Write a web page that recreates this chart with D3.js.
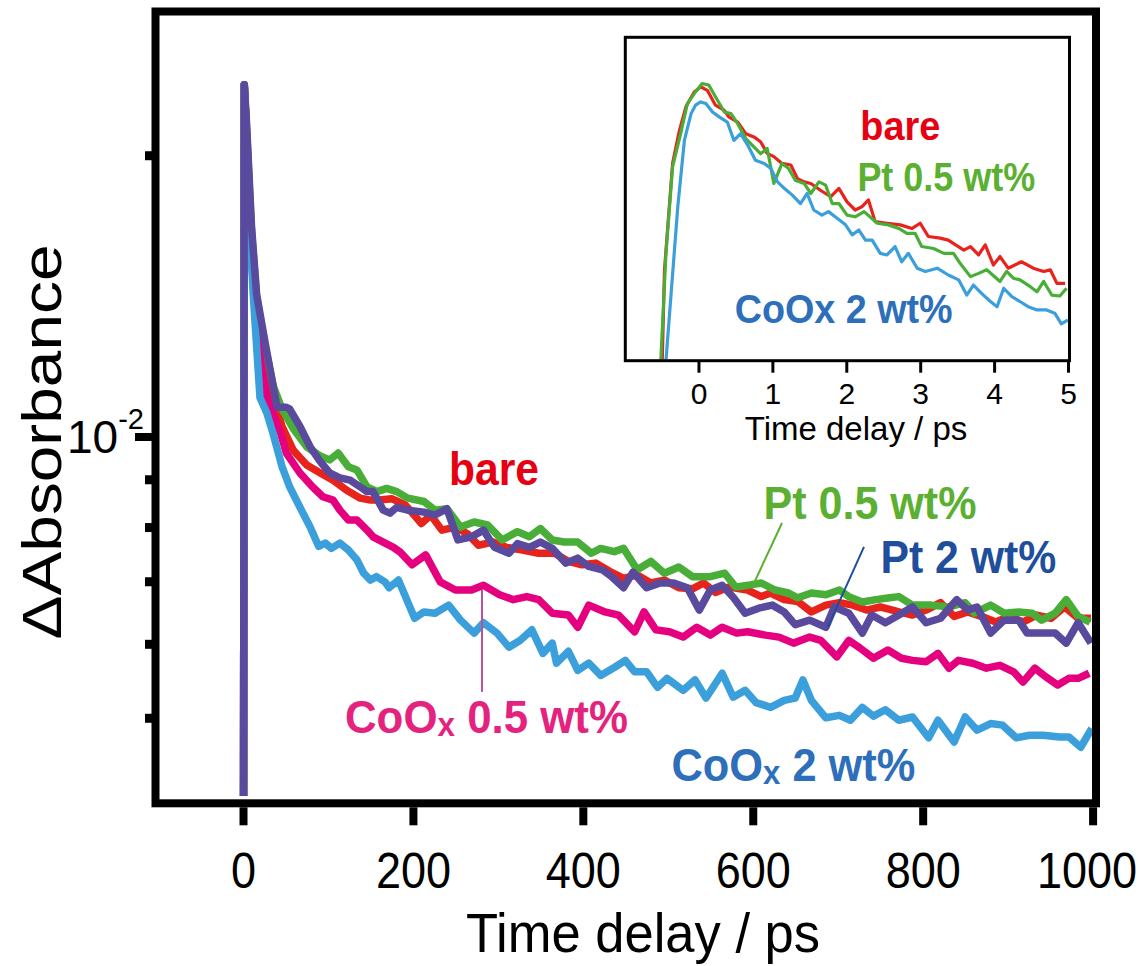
<!DOCTYPE html>
<html>
<head>
<meta charset="utf-8">
<script src="https://cdn.jsdelivr.net/npm/d3@7"></script>
<style>
  html, body { margin: 0; padding: 0; background: #fff; }
  svg { display: block; }
  text { font-family: "Liberation Sans", Arial, Helvetica, sans-serif; }
</style>
</head>
<body>
<svg id="chart" width="1142" height="966"></svg>
<script>
// ---- Transient absorption decays: [time / ps, ΔAbs / 10^-3] ----
const bare = [[-4,1],[0,1],[1.5,23.8],[4,21.3],[10,16.3],[16,13.8],[26,12.2],[36,11.0],[46,10.25],[59,9.67],[75,9.32],[91,9.14],[106,8.98],[122,8.76],[138,8.59],[150,8.55],[161,8.55],[175,8.58],[191,8.45],[210,8.07],[221,8.24],[234,7.94],[250,8.00],[264,7.87],[277,7.65],[294,7.71],[310,7.61],[329,7.56],[348,7.50],[367,7.50],[383,7.35],[399,7.29],[415,7.32],[432,7.17],[448,7.05],[464,7.11],[480,6.97],[496,7.02],[513,6.89],[529,6.87],[542,6.97],[556,6.81],[572,6.90],[594,6.85],[610,6.74],[621,6.80],[637,6.69],[653,6.66],[669,6.49],[686,6.60],[702,6.64],[718,6.60],[734,6.52],[750,6.57],[772,6.49],[788,6.44],[804,6.52],[821,6.64],[837,6.42],[853,6.49],[869,6.42],[886,6.33],[902,6.42],[918,6.33],[934,6.44],[951,6.39],[967,6.57],[983,6.39],[998,6.39]];

const pt05 = [[-4,1],[0,1],[1.5,23.8],[4,21.5],[10,16.6],[16,14.1],[26,12.5],[36,11.3],[46,10.7],[59,10.2],[75,9.75],[91,9.53],[102,9.44],[112,9.60],[124,9.28],[134,9.21],[146,8.83],[158,8.73],[169,8.80],[181,8.73],[194,8.59],[213,8.52],[226,8.34],[240,8.37],[256,8.00],[272,8.10],[288,8.04],[305,7.75],[323,7.91],[337,7.81],[350,7.97],[364,7.75],[378,7.71],[394,7.71],[410,7.50],[421,7.59],[437,7.53],[448,7.59],[464,7.20],[480,7.35],[496,7.14],[513,7.25],[529,7.08],[550,7.08],[567,7.14],[580,6.90],[594,6.93],[610,6.97],[626,6.85],[642,6.80],[653,6.72],[669,6.80],[686,6.77],[702,6.85],[713,6.74],[729,6.65],[745,6.69],[761,6.72],[772,6.74],[788,6.60],[810,6.60],[831,6.57],[850,6.64],[861,6.47],[880,6.60],[896,6.47],[913,6.49],[929,6.47],[940,6.36],[956,6.47],[969,6.69],[983,6.42],[997,6.33]];

const coox05 = [[-4,1],[0,1],[1.5,23.8],[4,21.0],[10,15.5],[16,13.0],[22,11.8],[29,10.9],[44,10.1],[51,9.60],[67,9.14],[82,8.83],[94,8.62],[106,8.55],[114,8.34],[124,8.14],[134,8.14],[146,7.94],[153,7.81],[165,7.71],[177,7.61],[185,7.52],[199,7.29],[215,7.47],[232,6.99],[250,6.85],[269,6.85],[283,6.93],[302,6.77],[318,6.69],[334,6.74],[348,6.69],[364,6.47],[383,6.44],[394,6.25],[407,6.60],[426,6.49],[442,6.44],[461,6.18],[472,6.49],[486,6.21],[502,6.18],[518,6.10],[534,6.25],[550,6.13],[564,6.25],[581,6.16],[594,6.18],[615,6.13],[631,6.10],[648,6.01],[667,6.10],[680,6.05],[699,5.81],[713,6.05],[726,5.94],[742,5.79],[759,5.91],[775,5.79],[788,5.76],[804,5.74],[818,5.86],[831,5.65],[842,5.76],[859,5.72],[875,5.65],[891,5.69],[907,5.60],[918,5.46],[932,5.65],[945,5.53],[959,5.42],[972,5.51],[983,5.51],[996,5.58]];

const coox2 = [[-4,1],[0,1],[1.5,23.8],[6,18.2],[12,14.2],[20,11.0],[28,10.6],[35,10.1],[46,9.28],[55,8.83],[67,8.40],[79,8.00],[89,7.63],[97,7.69],[104,7.59],[114,7.69],[124,7.56],[134,7.38],[142,7.14],[150,7.02],[157,7.08],[167,6.99],[172,6.89],[183,7.02],[202,6.39],[213,6.49],[226,6.47],[242,6.60],[256,6.36],[272,6.16],[283,6.32],[299,6.16],[313,5.95],[326,6.05],[340,6.21],[353,5.86],[364,6.01],[369,5.72],[383,5.89],[394,5.62],[407,5.72],[421,5.55],[437,5.66],[450,5.76],[461,5.60],[475,5.60],[488,5.39],[499,5.51],[518,5.35],[532,5.49],[545,5.25],[564,5.58],[577,5.26],[591,5.35],[604,5.19],[621,5.13],[637,5.22],[650,5.25],[659,5.49],[669,5.22],[686,5.00],[702,5.03],[715,4.97],[729,5.13],[742,5.02],[756,5.10],[772,4.97],[788,5.01],[807,4.76],[818,4.97],[837,4.71],[850,5.01],[864,4.85],[880,4.93],[894,4.91],[910,4.76],[926,4.79],[942,4.79],[961,4.77],[972,4.77],[986,4.65],[999,4.87]];

const pt2 = [[-4,1],[0,1],[1.5,23.8],[4,21.8],[10,16.8],[16,14.2],[26,12.6],[40,10.75],[51,10.75],[55,10.7],[67,10.25],[79,9.75],[91,9.40],[102,9.14],[114,9.03],[126,8.98],[138,8.83],[146,8.73],[153,8.73],[165,8.34],[173,8.28],[181,8.40],[194,8.34],[213,8.30],[226,8.24],[240,8.37],[253,7.75],[269,7.81],[283,7.94],[296,7.61],[313,7.50],[323,7.68],[337,7.61],[350,7.71],[364,7.59],[380,7.32],[394,7.41],[407,7.26],[423,7.20],[434,7.08],[448,6.89],[459,7.16],[475,6.89],[491,6.97],[507,6.97],[523,6.89],[537,6.52],[550,6.85],[564,6.93],[577,6.73],[591,6.47],[607,6.55],[623,6.60],[637,6.49],[650,6.29],[667,6.36],[686,6.25],[696,6.57],[713,6.47],[729,6.16],[740,6.44],[756,6.32],[772,6.44],[788,6.57],[804,6.32],[821,6.39],[840,6.69],[853,6.52],[864,6.57],[880,6.16],[896,6.36],[913,6.36],[923,6.16],[940,6.16],[956,6.16],[969,6.01],[983,6.32],[998,6.01]];

// ---- Early-time decays for the inset: [time / ps, normalised ΔAbs] ----
const insetBare = [[-0.6,-0.1],[-0.49,0.00],[-0.46,0.28],[-0.35,0.61],[-0.26,0.71],[-0.17,0.785],[-0.06,0.83],[0.03,0.847],[0.12,0.836],[0.23,0.79],[0.35,0.774],[0.41,0.754],[0.53,0.738],[0.64,0.702],[0.75,0.692],[0.84,0.677],[0.93,0.641],[1.02,0.631],[1.13,0.61],[1.25,0.605],[1.34,0.563],[1.43,0.553],[1.52,0.548],[1.65,0.527],[1.79,0.507],[1.90,0.533],[2.01,0.491],[2.12,0.466],[2.21,0.476],[2.30,0.497],[2.39,0.43],[2.55,0.425],[2.73,0.42],[2.89,0.409],[3.00,0.425],[3.11,0.384],[3.27,0.379],[3.38,0.373],[3.59,0.342],[3.68,0.353],[3.79,0.327],[3.88,0.358],[3.99,0.296],[4.08,0.322],[4.19,0.286],[4.37,0.306],[4.53,0.286],[4.67,0.276],[4.76,0.281],[4.85,0.239],[4.96,0.239]];

const insetPt05 = [[-0.6,-0.1],[-0.51,0.00],[-0.44,0.332],[-0.35,0.60],[-0.24,0.703],[-0.15,0.795],[-0.04,0.831],[0.05,0.857],[0.14,0.852],[0.23,0.816],[0.35,0.769],[0.44,0.764],[0.53,0.733],[0.64,0.687],[0.75,0.661],[0.84,0.64],[0.93,0.656],[1.02,0.548],[1.13,0.61],[1.22,0.594],[1.31,0.558],[1.43,0.548],[1.52,0.517],[1.63,0.553],[1.72,0.543],[1.81,0.486],[1.90,0.486],[2.01,0.45],[2.12,0.445],[2.24,0.461],[2.42,0.425],[2.57,0.42],[2.71,0.409],[2.82,0.394],[2.93,0.394],[3.02,0.353],[3.18,0.347],[3.32,0.332],[3.45,0.332],[3.54,0.301],[3.68,0.26],[3.79,0.27],[3.90,0.281],[4.08,0.245],[4.17,0.276],[4.26,0.255],[4.35,0.25],[4.49,0.229],[4.58,0.213],[4.67,0.245],[4.78,0.203],[4.89,0.20],[4.98,0.224]];

const insetCoox2 = [[-0.5,-0.1],[-0.44,0.00],[-0.37,0.208],[-0.28,0.476],[-0.19,0.682],[-0.10,0.764],[-0.04,0.79],[0.03,0.80],[0.10,0.795],[0.19,0.769],[0.28,0.754],[0.39,0.738],[0.48,0.681],[0.57,0.702],[0.68,0.661],[0.77,0.62],[0.89,0.61],[0.98,0.594],[1.07,0.553],[1.16,0.533],[1.27,0.512],[1.38,0.486],[1.47,0.517],[1.56,0.466],[1.67,0.45],[1.76,0.461],[1.88,0.44],[1.99,0.42],[2.08,0.389],[2.17,0.404],[2.26,0.373],[2.35,0.373],[2.46,0.332],[2.55,0.327],[2.66,0.353],[2.75,0.306],[2.84,0.332],[2.96,0.286],[3.07,0.276],[3.23,0.286],[3.38,0.265],[3.52,0.25],[3.63,0.203],[3.72,0.234],[3.83,0.208],[3.95,0.183],[4.04,0.167],[4.13,0.224],[4.24,0.198],[4.35,0.183],[4.46,0.167],[4.58,0.157],[4.71,0.157],[4.82,0.147],[4.91,0.114],[5.00,0.126]];

// ---- Axis ticks ----
const xTicks = [0, 200, 400, 600, 800, 1000];
const yMinorTicks = [5, 6, 7, 8, 9, 20];
const yMajorTicks = [10];
const insetTicks = [0, 1, 2, 3, 4, 5];

// ---- Series styling and annotations (anchors in data units) ----
const mainSeries = [
  { data: bare,   color: "#e8231c" },
  { data: pt05,   color: "#48ae37" },
  { data: coox05, color: "#e5007f" },
  { data: coox2,  color: "#3a9fdb" },
  { data: pt2,    color: "#5a4a9e" }
];
const insetSeries = [
  { data: insetBare,  color: "#e8231c" },
  { data: insetPt05,  color: "#48ae37" },
  { data: insetCoox2, color: "#3a9fdb" }
];
const mainLabels = [
  { parts: [["bare"]], t: 242.5, v: 8.87, color: "#e60012", width: 90 },
  { parts: [["Pt 0.5 wt%"]], t: 612.6, v: 8.16, color: "#5bb031", width: 213 },
  { parts: [["Pt 2 wt%"]], t: 750.3, v: 7.145, color: "#1f4e9c", width: 176 },
  { parts: [["CoO"], ["x", "sub"], [" 0.5 wt%"]], t: 120.0, v: 4.816, color: "#e4237e", width: 283 },
  { parts: [["CoO"], ["x", "sub"], [" 2 wt%"]], t: 504.3, v: 4.279, color: "#2d6fba", width: 244 }
];
const leaders = [
  { from: [634.4, 8.08], to: [601.5, 6.97], color: "#5bb031" },
  { from: [730.9, 7.62], to: [688.6, 6.26], color: "#1f4e9c" },
  { from: [281.3, 6.85], to: [281.3, 5.33], color: "#b9529a" }
];
const insetLabels = [
  { text: "bare", t: 2.19, v: 0.682, color: "#e60012", width: 80 },
  { text: "Pt 0.5 wt%", t: 2.15, v: 0.526, color: "#5bb031", width: 178 },
  { text: "CoOx 2 wt%", t: 0.49, v: 0.117, color: "#2d6fba", width: 218 }
];

const svg = d3.select("#chart");

// ---- Main plot ----
const frame = { left: 155.5, top: 11.5, right: 1096, bottom: 803.3 };
const x = d3.scaleLinear().domain([-103, 1004]).range([frame.left, frame.right]);
const y = d3.scaleLog().domain([4.05, 28.5]).range([frame.bottom, frame.top]);

svg.append("clipPath").attr("id", "plotClip")
  .append("rect").attr("x", frame.left + 4).attr("y", frame.top + 4)
  .attr("width", frame.right - frame.left - 8).attr("height", 796 - frame.top - 4);

const line = d3.line().x(d => x(d[0])).y(d => y(d[1]));
svg.append("g").attr("clip-path", "url(#plotClip)")
  .selectAll("path").data(mainSeries).join("path")
  .attr("d", s => line(s.data))
  .attr("fill", "none").attr("stroke", s => s.color)
  .attr("stroke-width", 7.5).attr("stroke-linejoin", "round");

// frame
svg.append("rect")
  .attr("x", frame.left).attr("y", frame.top)
  .attr("width", frame.right - frame.left).attr("height", frame.bottom - frame.top)
  .attr("fill", "none").attr("stroke", "#000").attr("stroke-width", 8);

// slightly narrowed glyphs for tick numbers
function narrow(sel, f) {
  sel.each(function () {
    const w = this.getComputedTextLength();
    d3.select(this).attr("textLength", w * f).attr("lengthAdjust", "spacingAndGlyphs");
  });
}

// x axis; the last number sits flush with the right edge of the figure, so it is set separately
const lastTick = xTicks[xTicks.length - 1];
const gx = svg.append("g").attr("transform", `translate(0,${frame.bottom + 4})`)
  .call(d3.axisBottom(x).tickValues(xTicks).tickSize(18).tickSizeOuter(0).tickPadding(27)
    .tickFormat(d => d === lastTick ? "" : d3.format("d")(d)));
gx.select(".domain").remove();
gx.selectAll(".tick line").attr("stroke", "#000").attr("stroke-width", 8);
gx.selectAll(".tick text").attr("font-size", 50).attr("fill", "#000")
  .attr("font-family", "'Liberation Sans', Arial, sans-serif")
  .filter(d => d !== lastTick)
  .call(narrow, 0.9);
gx.append("text")
  .attr("x", 1137).attr("y", 18 + 27).attr("dy", "0.71em")
  .attr("text-anchor", "end").attr("font-size", 50).attr("fill", "#000")
  .text(d3.format("d")(lastTick))
  .call(narrow, 0.9);

// y axis, minor and major ticks
const gyMinor = svg.append("g").attr("transform", `translate(${frame.left - 3.5},0)`)
  .call(d3.axisLeft(y).tickValues(yMinorTicks).tickSize(7).tickSizeOuter(0).tickFormat(""));
gyMinor.select(".domain").remove();
gyMinor.selectAll(".tick line").attr("stroke", "#000").attr("stroke-width", 9);

const gyMajor = svg.append("g").attr("transform", `translate(${frame.left - 3.5},0)`)
  .call(d3.axisLeft(y).tickValues(yMajorTicks).tickSize(17).tickSizeOuter(0).tickFormat(""));
gyMajor.select(".domain").remove();
gyMajor.selectAll(".tick line").attr("stroke", "#000").attr("stroke-width", 8);
gyMajor.selectAll(".tick").append("text")
  .attr("x", -8).attr("y", 16).attr("text-anchor", "end").attr("fill", "#000")
  .call(t => {
    t.append("tspan").attr("font-size", 46).text("10");
    t.append("tspan").attr("font-size", 29).attr("dy", -24).text("-2");
  });

// axis titles
svg.append("text")
  .attr("transform", "translate(643,952)")
  .attr("text-anchor", "middle").attr("font-size", 56)
  .attr("textLength", 354).attr("lengthAdjust", "spacingAndGlyphs")
  .text("Time delay / ps");
svg.append("text")
  .attr("transform", "translate(61,442) rotate(-90)")
  .attr("text-anchor", "middle").attr("font-size", 55)
  .attr("textLength", 395).attr("lengthAdjust", "spacingAndGlyphs")
  .text("ΔAbsorbance");

// leader lines
svg.append("g").selectAll("line").data(leaders).join("line")
  .attr("x1", d => x(d.from[0])).attr("y1", d => y(d.from[1]))
  .attr("x2", d => x(d.to[0])).attr("y2", d => y(d.to[1]))
  .attr("stroke", d => d.color).attr("stroke-width", 2);

// squeeze a text node horizontally to the given width, keeping its left edge at (px, py)
function placeFitted(g, px, py, width) {
  const node = g.select("text").node();
  const w = node.getComputedTextLength();
  g.attr("transform", `translate(${px},${py}) scale(${width / w},1)`);
}

mainLabels.forEach(lb => {
  const g = svg.append("g");
  const t = g.append("text").attr("font-size", 46).attr("font-weight", "bold").attr("fill", lb.color);
  lb.parts.forEach(p => {
    const ts = t.append("tspan").text(p[0]);
    if (p[1] === "sub") ts.attr("font-size", 33).attr("dy", 3);
    else if (t.selectAll("tspan").size() > 1) ts.attr("dy", -3);
  });
  placeFitted(g, x(lb.t), y(lb.v), lb.width);
});

// ---- Inset ----
const ib = { left: 625.3, top: 37.3, right: 1069.5, bottom: 360.7 };
const xi = d3.scaleLinear().domain([-0.99, 5.02]).range([ib.left, ib.right]);
const yi = d3.scaleLinear().domain([0, 1]).range([ib.bottom, ib.top]);

svg.append("rect").attr("x", ib.left).attr("y", ib.top)
  .attr("width", ib.right - ib.left).attr("height", ib.bottom - ib.top).attr("fill", "#fff");

svg.append("clipPath").attr("id", "insetClip")
  .append("rect").attr("x", ib.left + 1.5).attr("y", ib.top + 1.5)
  .attr("width", ib.right - ib.left - 3).attr("height", ib.bottom - ib.top - 3);

const lineI = d3.line().x(d => xi(d[0])).y(d => yi(d[1]));
svg.append("g").attr("clip-path", "url(#insetClip)")
  .selectAll("path").data(insetSeries).join("path")
  .attr("d", s => lineI(s.data))
  .attr("fill", "none").attr("stroke", s => s.color)
  .attr("stroke-width", 3.2).attr("stroke-linejoin", "round");

svg.append("rect").attr("x", ib.left).attr("y", ib.top)
  .attr("width", ib.right - ib.left).attr("height", ib.bottom - ib.top)
  .attr("fill", "none").attr("stroke", "#000").attr("stroke-width", 3);

const gxi = svg.append("g").attr("transform", `translate(0,${ib.bottom})`)
  .call(d3.axisBottom(xi).tickValues(insetTicks).tickSize(12).tickSizeOuter(0).tickPadding(10).tickFormat(d3.format("d")));
gxi.select(".domain").remove();
gxi.selectAll(".tick line").attr("stroke", "#000").attr("stroke-width", 3);
gxi.selectAll(".tick text").attr("font-size", 30).attr("fill", "#000").attr("font-family", "'Liberation Sans', Arial, sans-serif");

svg.append("text").attr("x", 856).attr("y", 440)
  .attr("text-anchor", "middle").attr("font-size", 33)
  .text("Time delay / ps");

insetLabels.forEach(lb => {
  const g = svg.append("g");
  g.append("text").attr("font-size", 40).attr("font-weight", "bold").attr("fill", lb.color).text(lb.text);
  placeFitted(g, xi(lb.t), yi(lb.v), lb.width);
});
</script>
</body>
</html>
